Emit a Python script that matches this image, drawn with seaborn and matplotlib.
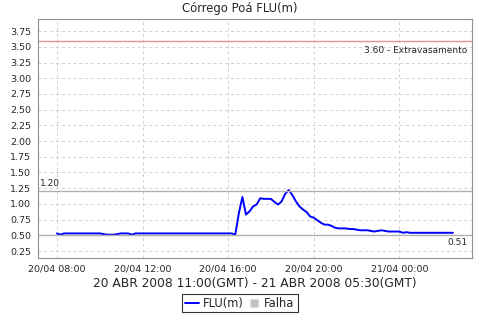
import numpy as np
import pandas as pd
import seaborn as sns
import matplotlib.pyplot as plt
import matplotlib.dates as mdates
from matplotlib.lines import Line2D

# 10-minute readings, 20/04/2008 08:00 to 21/04/2008 02:30 (local)
flu = [0.53, 0.51] + [0.53] * 11 + [0.52, 0.51, 0.51, 0.51, 0.52, 0.53, 0.53, 0.53, 0.51] + [0.53] * 28 + \
      [0.51, 0.85, 1.11, 0.83, 0.88, 0.96, 0.99, 1.09, 1.08, 1.08, 1.08, 1.03, 0.99, 1.04, 1.16, 1.22,
       1.14, 1.04, 0.96, 0.91, 0.87, 0.80, 0.78, 0.74, 0.70, 0.67, 0.67, 0.65, 0.62, 0.61, 0.61, 0.61,
       0.60, 0.60, 0.59, 0.58, 0.58, 0.58, 0.57, 0.56, 0.57, 0.58, 0.57, 0.56, 0.56, 0.56, 0.56, 0.54,
       0.55, 0.54] + [0.54] * 12
times = pd.date_range("2008-04-20 08:00", periods=len(flu), freq="10min")
df = pd.DataFrame({"time": times, "FLU(m)": flu})

flood_level = 3.60
alert_level = 1.20
last_level = 0.51

sns.set_style("white")
plt.rcParams["font.family"] = ["DejaVu Sans"]

fig = plt.figure(figsize=(4.8, 3.2), dpi=100)
ax = fig.add_axes([0.079, 0.194, 0.904, 0.746])

sns.lineplot(data=df, x="time", y="FLU(m)", color="#0000ff", linewidth=1.4, ax=ax)

ax.axhline(flood_level, color="#f09090", linewidth=1)
ax.axhline(alert_level, color="#b0b0b0", linewidth=1)
ax.axhline(last_level, color="#b0b0b0", linewidth=1)

ax.text(0.99, flood_level - 0.08, "3.60 - Extravasamento", transform=ax.get_yaxis_transform(),
        ha="right", va="top", fontsize=6.5)
ax.text(0.005, alert_level + 0.05, "1.20", transform=ax.get_yaxis_transform(),
        ha="left", va="bottom", fontsize=6.5)
ax.text(0.99, last_level - 0.06, "0.51", transform=ax.get_yaxis_transform(),
        ha="right", va="top", fontsize=6.5)

ax.set_ylim(0.14, 3.94)
ax.set_yticks(np.arange(0.25, 3.76, 0.25))
ax.yaxis.set_major_formatter(plt.FormatStrFormatter("%.2f"))
span = times[-1] - times[0]
ax.set_xlim(times[0] - span * 0.048, times[-1] + span * 0.048)
ax.xaxis.set_major_locator(mdates.HourLocator(byhour=[0, 4, 8, 12, 16, 20]))
ax.xaxis.set_major_formatter(mdates.DateFormatter("%d/%m %H:%M"))

ax.grid(True, color="#d0d0d0", linestyle=(0, (3, 3)), linewidth=0.7)
for s in ax.spines.values():
    s.set_color("#909090")
    s.set_linewidth(0.8)
ax.tick_params(axis="both", labelsize=6.8, length=3, width=0.6, color="#909090", pad=2)

ax.set_ylabel("")
ax.set_xlabel("20 ABR 2008 11:00(GMT) - 21 ABR 2008 05:30(GMT)", fontsize=8.8, labelpad=2)
fig.text(0.5, 0.972, "Córrego Poá FLU(m)", ha="center", va="center", fontsize=8.4)

handles = [Line2D([0], [0], color="#0000ff", linewidth=1.4),
           Line2D([0], [0], color="none", marker="s", markersize=6,
                  markerfacecolor="#c0c0c0", markeredgecolor="none")]
leg = fig.legend(handles, ["FLU(m)", "Falha"], loc="center", bbox_to_anchor=(0.5, 0.053), ncol=2,
                 fontsize=8.3, frameon=True, fancybox=False, edgecolor="black", handlelength=1.2,
                 handletextpad=0.3, columnspacing=0.3, borderpad=0.25, borderaxespad=0)
leg.get_frame().set_linewidth(0.8)

fig.savefig("out.png", dpi=100)
